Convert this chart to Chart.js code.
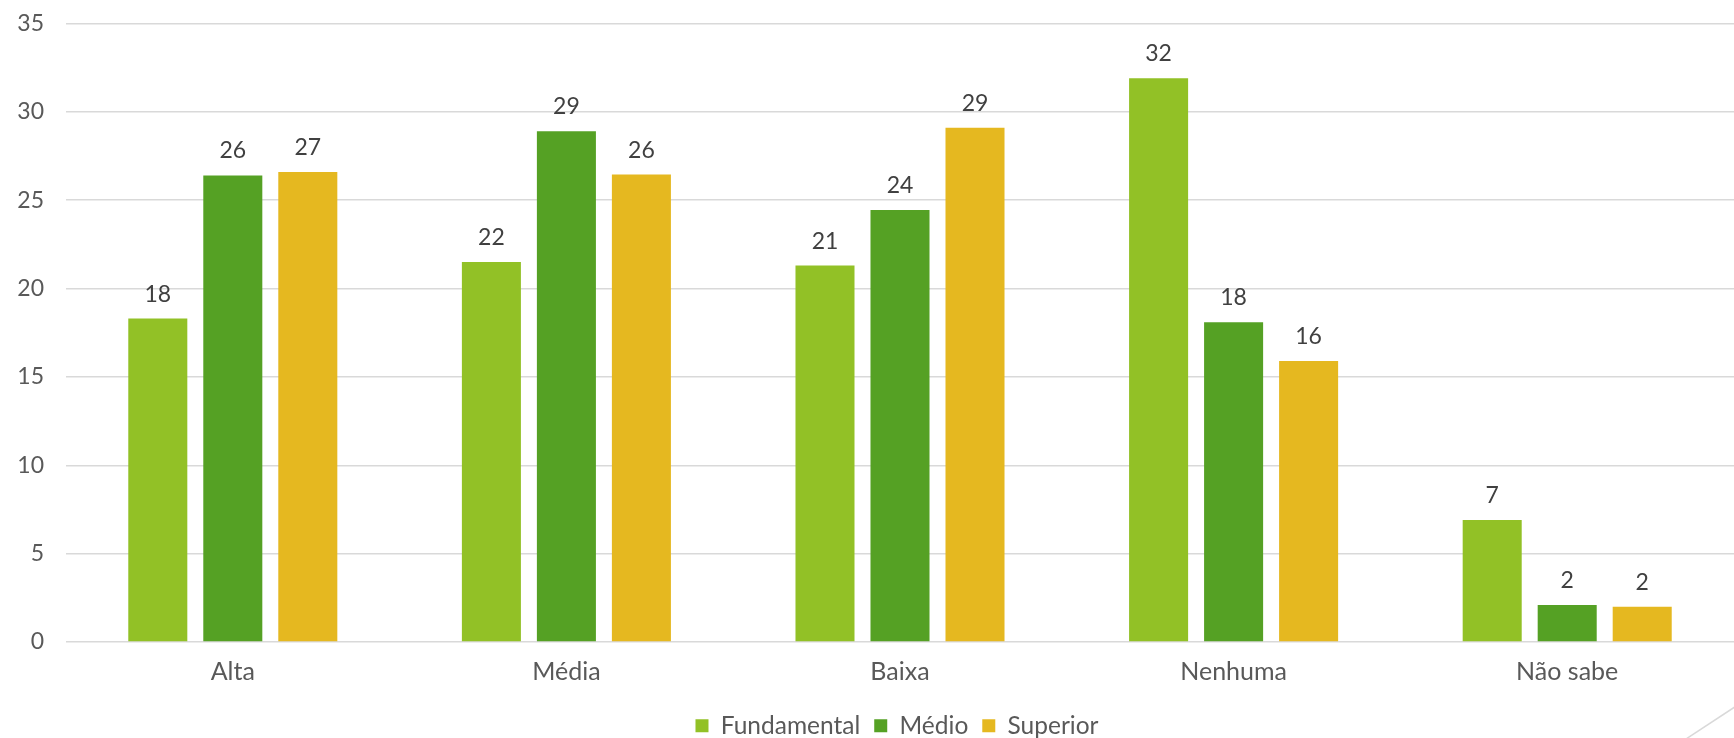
<!DOCTYPE html>
<html>
<head>
<meta charset="utf-8">
<script src="https://cdn.jsdelivr.net/npm/chart.js@4/dist/chart.umd.min.js"></script>
<style>
  html, body { margin: 0; padding: 0; background: #ffffff; }
  #wrap { width: 1734px; height: 738px; position: relative; }
</style>
</head>
<body>
<div id="wrap"><canvas id="c" width="1734" height="738"></canvas></div>
<script>
const categories = ["Alta", "Média", "Baixa", "Nenhuma", "Não sabe"];
const seriesNames = ["Fundamental", "Médio", "Superior"];
const fundamental = [18.3, 21.5, 21.3, 31.9, 6.9];
const medio = [26.4, 28.9, 24.45, 18.1, 2.1];
const superior = [26.6, 26.45, 29.1, 15.9, 2.0];
const yTicks = [0, 5, 10, 15, 20, 25, 30, 35];

const colors = ["#92C126", "#55A124", "#E5B820"];
const FONT = "Lato, 'Open Sans', sans-serif";

const dataLabels = {
  id: 'dataLabels',
  afterDatasetsDraw(chart) {
    const ctx = chart.ctx;
    ctx.save();
    ctx.font = "23px " + FONT;
    ctx.fillStyle = "#404040";
    ctx.textAlign = "center";
    ctx.textBaseline = "alphabetic";
    chart.data.datasets.forEach((ds, i) => {
      const meta = chart.getDatasetMeta(i);
      meta.data.forEach((el, j) => {
        ctx.fillText(String(Math.round(ds.data[j])), el.x, el.y - 17);
      });
    });
    ctx.restore();
  }
};

const legendShift = {
  id: 'legendShift',
  afterLayout(chart) {
    const lg = chart.legend;
    if (lg) {
      lg.top += 10;
      lg.bottom += 10;
      lg.left += 30;
      lg.right += 30;
    }
  }
};

const cornerLine = {
  id: 'cornerLine',
  afterDraw(chart) {
    const ctx = chart.ctx;
    ctx.save();
    ctx.strokeStyle = "#d9d9d9";
    ctx.lineWidth = 1.5;
    ctx.beginPath();
    ctx.moveTo(1686, 739);
    ctx.lineTo(1736, 706.2);
    ctx.stroke();
    ctx.restore();
  }
};

new Chart(document.getElementById('c'), {
  type: 'bar',
  data: {
    labels: categories,
    datasets: [
      { label: seriesNames[0], data: fundamental, backgroundColor: colors[0] },
      { label: seriesNames[1], data: medio, backgroundColor: colors[1] },
      { label: seriesNames[2], data: superior, backgroundColor: colors[2] }
    ]
  },
  options: {
    responsive: false,
    animation: false,
    devicePixelRatio: 1,
    categoryPercentage: 0.6745,
    barPercentage: 0.787,
    layout: { padding: { top: 23.5, right: 0, left: 0, bottom: 0 } },
    plugins: {
      legend: {
        position: 'bottom',
        labels: {
          font: { family: FONT, size: 24.5 },
          color: "#595959",
          boxWidth: 13,
          boxHeight: 13,
          padding: 14
        }
      },
      tooltip: { enabled: false }
    },
    scales: {
      x: {
        grid: { display: false, drawTicks: false },
        border: { display: false },
        ticks: { font: { family: FONT, size: 25 }, color: "#595959", padding: 15 },
        afterFit(s) { s.height = 47.5; }
      },
      y: {
        min: 0, max: 35,
        afterBuildTicks(s) { s.ticks = yTicks.map(v => ({ value: v })); },
        grid: { color: "#d9d9d9", lineWidth: 1.5, drawTicks: false },
        border: { display: false },
        ticks: { font: { family: FONT, size: 23 }, color: "#595959", padding: 22 },
        afterFit(s) { s.width = 66; s.paddingTop = 0; s.paddingBottom = 0; }
      }
    }
  },
  plugins: [dataLabels, legendShift, cornerLine]
});
</script>
</body>
</html>
